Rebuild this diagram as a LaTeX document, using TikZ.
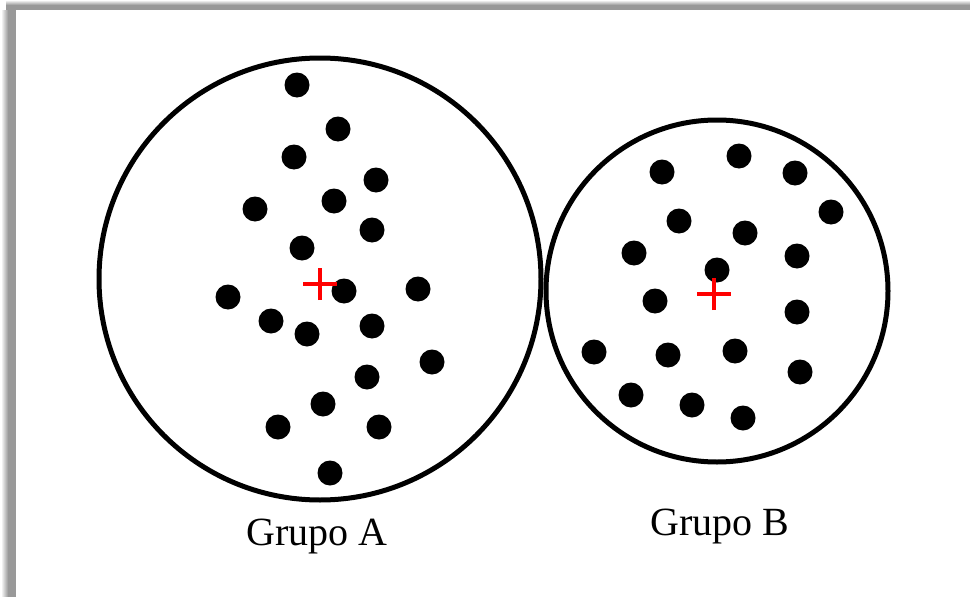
\documentclass[tikz,border=0pt]{standalone}
\usepackage{fontspec}
\setmainfont{Liberation Serif}
\begin{document}
\begin{tikzpicture}[x=1pt,y=-1pt,
  ring/.style={draw=black,line width=5pt},
  dot/.style={fill=black},
  centroid/.style={draw=red,line width=3.5pt},
  grouplabel/.style={anchor=base,font=\fontsize{40}{48}\selectfont,inner sep=0pt}]
\useasboundingbox (0,0) rectangle (970,597);
\fill[white] (0,0) rectangle (970,597);
% frame shadow
\shade[top color=white,bottom color=black!40] (6,0) rectangle (970,5);
\fill[black!40] (6,5) rectangle (970,10);
\shade[left color=white,right color=black!40] (1,10) rectangle (8,597);
\fill[black!40] (8,5) rectangle (16,597);
% circles
\draw[ring] (320,279) circle[radius=221];
\draw[ring] (717,291) circle[radius=171];
% dots group A
\foreach \p in {(297,85),(338,129),(294,157),(376,180),(255,209),(334,201),(372,230),(302,248),(228,297),(344,291),(418,289),(271,321),(307,334),(372,326),(432,362),(367,377),(323,404),(278,427),(379,427),(330,473)}
  \fill[dot] \p circle[radius=12.5];
% dots group B
\foreach \p in {(662,172),(739,156),(795,173),(831,212),(679,221),(745,233),(634,253),(797,256),(717,270),(655,301),(797,312),(594,352),(668,355),(735,351),(800,372),(631,395),(692,405),(743,418)}
  \fill[dot] \p circle[radius=12.5];
% centroids
\coordinate (cA) at (320,284);
\coordinate (cB) at (714,294);
\draw[centroid] ([xshift=-17pt]cA) -- ([xshift=17pt]cA) ([yshift=-16pt]cA) -- ([yshift=16pt]cA);
\draw[centroid] ([xshift=-17pt]cB) -- ([xshift=17pt]cB) ([yshift=-16pt]cB) -- ([yshift=16pt]cB);
% labels
\node[grouplabel] (lA) at (317,545) {Grupo A};
\node[grouplabel] (lB) at (720,535) {Grupo B};
\end{tikzpicture}
\end{document}
